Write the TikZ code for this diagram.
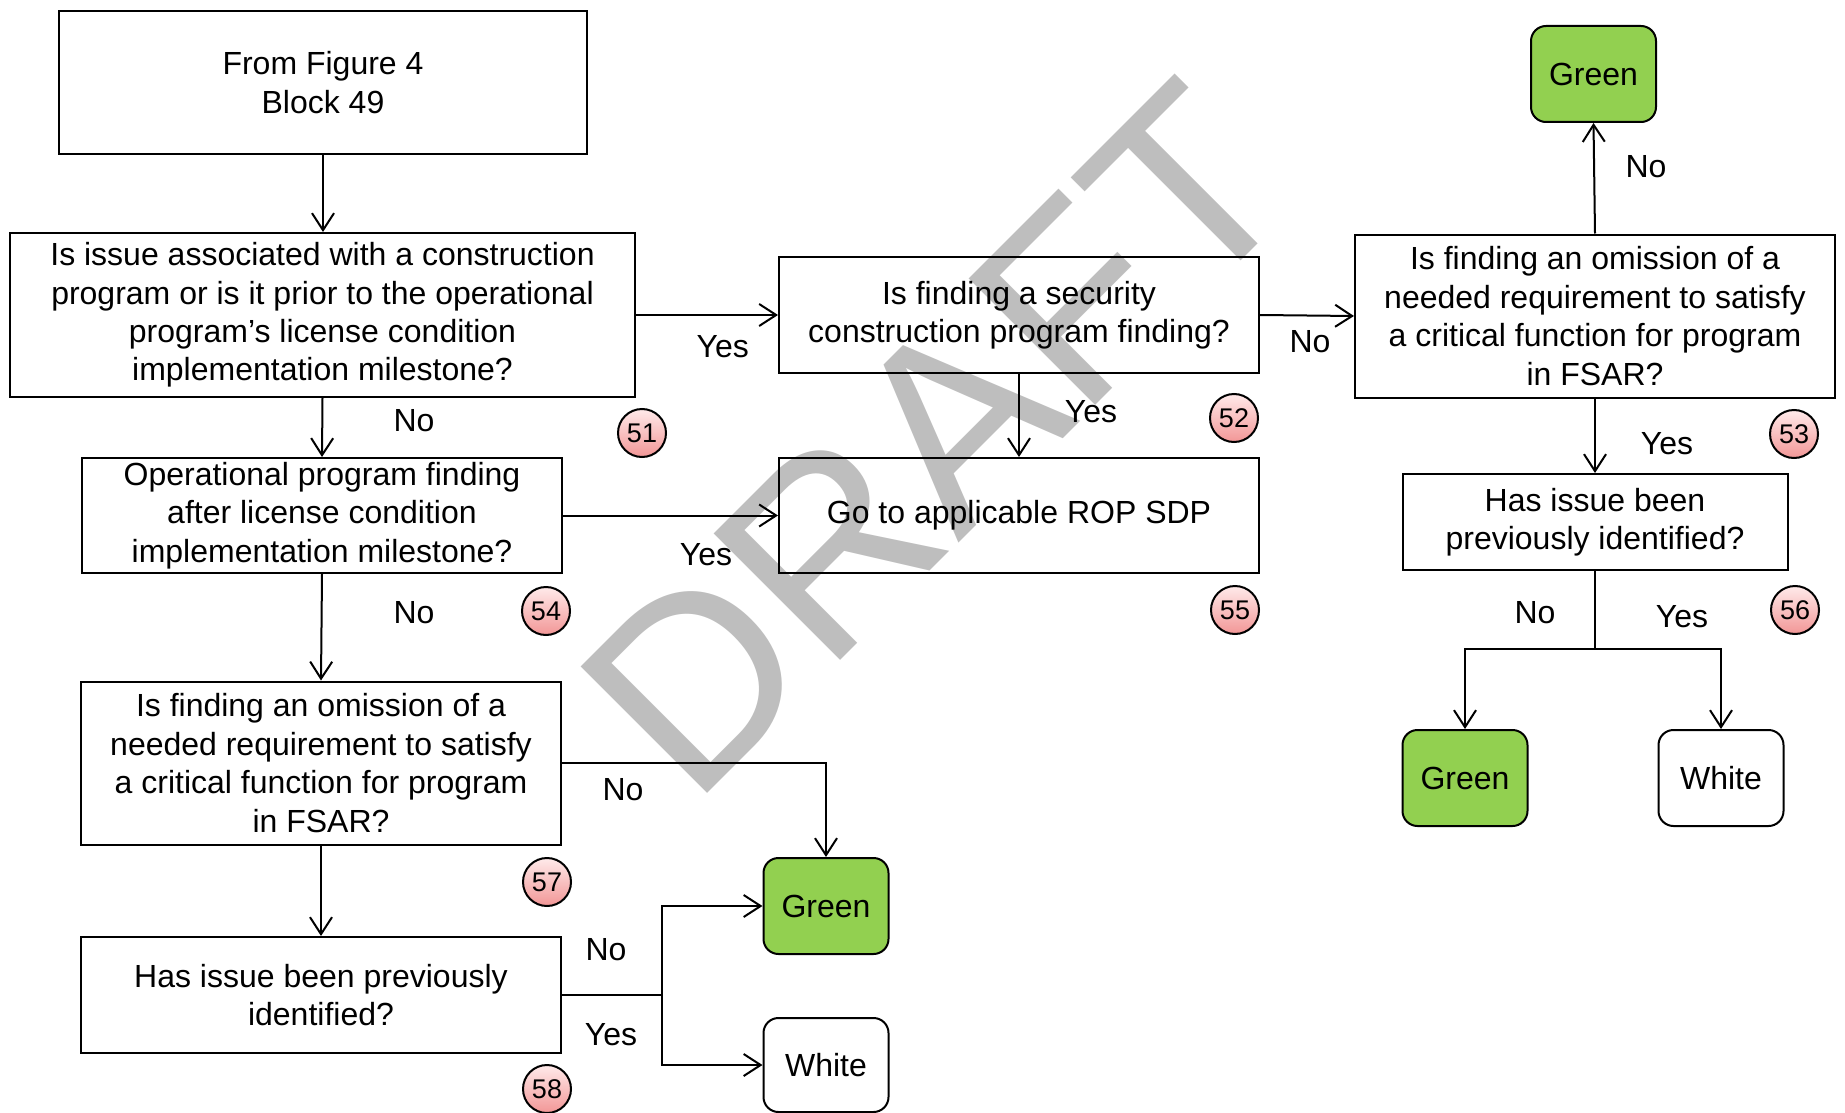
\documentclass[tikz,border=0pt]{standalone}
\usepackage{fontspec}
\setmainfont{Liberation Sans}
\usetikzlibrary{arrows.meta}
\definecolor{wmgray}{RGB}{190,190,190}
\definecolor{grn}{RGB}{146,208,80}
\definecolor{pinkT}{RGB}{255,234,234}
\definecolor{pinkB}{RGB}{242,150,150}
\begin{document}
\begin{tikzpicture}[x=1pt,y=-1pt,
  box/.style={draw=black, line width=2pt, align=center, inner sep=0pt,
    font=\fontsize{32}{38.4}\selectfont},
  res/.style={box, rounded corners=15pt, minimum width=125pt, minimum height=96pt},
  lbl/.style={font=\fontsize{32}{38.4}\selectfont, inner sep=0pt},
  num/.style={circle, draw=black, line width=2pt, minimum size=48pt, inner sep=0pt,
    top color=pinkT, bottom color=pinkB, font=\fontsize{27}{30}\selectfont},
  conn/.style={line width=2pt, -{Straight Barb[length=17pt,width=22pt,line width=2pt]}},
  plain/.style={line width=2pt},
  wmtext/.style={text=wmgray, inner sep=0pt, rotate=45, font=\fontsize{260}{300}\selectfont}
]
\useasboundingbox (0,0) rectangle (1845,1113);
\node[wmtext] (wm) at (936,439) {DRAFT};

% boxes
\node[box, minimum width=528pt, minimum height=143pt] (A) at (323,82.5) {From Figure 4\\Block 49};
\node[box, minimum width=625pt, minimum height=164pt] (B) at (322.5,315) {Is issue associated with a construction\\program or is it prior to the operational\\program’s license condition\\implementation milestone?};
\node[box, minimum width=480pt, minimum height=116pt] (C) at (1019,315) {Is finding a security\\construction program finding?};
\node[box, minimum width=480pt, minimum height=115pt] (F) at (1019,515.5) {Go to applicable ROP SDP};
\node[box, minimum width=480pt, minimum height=163pt] (D) at (1595,316) {Is finding an omission of a\\needed requirement to satisfy\\a critical function for program\\in FSAR?};
\node[res, fill=grn] (GT) at (1593.5,74) {Green};
\node[box, minimum width=385pt, minimum height=96pt] (G) at (1595,522) {Has issue been\\previously identified?};
\node[res, fill=grn] (GR) at (1465,778) {Green};
\node[res, fill=white] (WR) at (1721,778) {White};
\node[box, minimum width=480pt, minimum height=115pt] (E) at (322,515.5) {Operational program finding\\after license condition\\implementation milestone?};
\node[box, minimum width=480pt, minimum height=163pt] (H) at (321,763) {Is finding an omission of a\\needed requirement to satisfy\\a critical function for program\\in FSAR?};
\node[box, minimum width=480pt, minimum height=116pt] (I) at (321,995) {Has issue been previously\\identified?};
\node[res, fill=grn] (GB) at (826,906) {Green};
\node[res, fill=white, minimum height=94pt] (WB) at (826,1065) {White};

% junctions
\coordinate (ji) at (662,995);
\coordinate (jg) at (1595,649);

% connectors
\draw[conn] (A.south) -- (A.south |- B.north);
\draw[conn] (B.east) -- (C.west);
\draw[conn] (C.east) -- (D.west);
\draw[conn] (C.south) -- (F.north);
\draw[conn] (D.north) -- (GT.south);
\draw[conn] (D.south) -- (G.north);
\draw[conn] (B.south) -- (E.north);
\draw[conn] (E.east) -- (F.west);
\draw[conn] (E.south) -- (H.north);
\draw[conn] (H.south) -- (I.north);
\draw[conn] (H.east) -| (GB.north);
\draw[plain] (I.east) -- (ji);
\draw[conn] (ji) |- (GB.west);
\draw[conn] (ji) |- (WB.west);
\draw[plain] (G.south) -- (jg);
\draw[conn] (jg) -| (GR.north);
\draw[conn] (jg) -| (WR.north);

% labels
\node[lbl] (l1) at (414,421) {No};
\node[lbl] (l2) at (722.8,346.7) {Yes};
\node[lbl] (l3) at (1091,411.7) {Yes};
\node[lbl] (l4) at (1310,342) {No};
\node[lbl] (l5) at (1646,166.5) {No};
\node[lbl] (l6) at (1667,444) {Yes};
\node[lbl] (l7) at (706,555) {Yes};
\node[lbl] (l8) at (414,613) {No};
\node[lbl] (l9) at (1535,613) {No};
\node[lbl] (l10) at (1682,617) {Yes};
\node[lbl] (l11) at (623,790) {No};
\node[lbl] (l12) at (606,950) {No};
\node[lbl] (l13) at (611,1035) {Yes};

% step numbers
\node[num] (n51) at (642,433) {51};
\node[num] (n52) at (1234,418) {52};
\node[num] (n53) at (1794,434) {53};
\node[num] (n54) at (546,611) {54};
\node[num] (n55) at (1235,610) {55};
\node[num] (n56) at (1795,610) {56};
\node[num] (n57) at (547,882) {57};
\node[num] (n58) at (547,1089) {58};
\end{tikzpicture}
\end{document}
